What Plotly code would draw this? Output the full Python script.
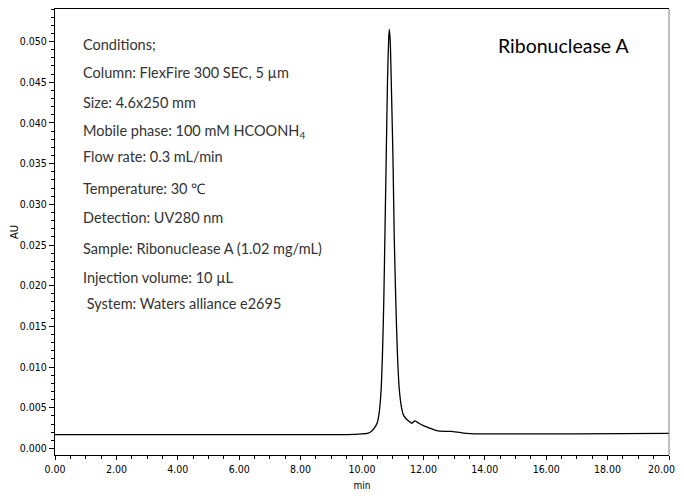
import plotly.graph_objects as go

# Chromatogram (retention time in min, absorbance in AU)
time_min = [0.0, 2.0, 4.0, 6.0, 8.0, 9.5, 10.0, 10.2, 10.3, 10.4, 10.5, 10.56,
            10.62, 10.67, 10.71, 10.75, 10.79, 10.83, 10.87, 10.89, 10.92,
            10.96, 11.01, 11.05, 11.10, 11.15, 11.21, 11.28, 11.35, 11.45,
            11.55, 11.62, 11.68, 11.73, 11.85, 12.0, 12.2, 12.43, 12.7, 12.9,
            13.3, 13.84, 15.0, 17.0, 20.0]
absorbance = [0.0017, 0.0017, 0.0017, 0.0017, 0.0017, 0.0017, 0.0018, 0.0019,
              0.0021, 0.0025, 0.0032, 0.0044, 0.0070, 0.0120, 0.0182, 0.0270,
              0.0360, 0.0450, 0.0505, 0.0515, 0.0500, 0.0440, 0.0354, 0.0260,
              0.0182, 0.0120, 0.0075, 0.0052, 0.0041, 0.0036, 0.0033, 0.0031,
              0.0033, 0.0034, 0.0031, 0.0028, 0.0025, 0.0022, 0.0021, 0.0021,
              0.0019, 0.0018, 0.0018, 0.0018, 0.00185]

x_ticks = [0, 2, 4, 6, 8, 10, 12, 14, 16, 18, 20]
x_ticktext = [f"{v:.2f}" for v in x_ticks]

conditions = [
    "Conditions;",
    "Column: FlexFire 300 SEC, 5 µm",
    "Size: 4.6x250 mm",
    "Mobile phase: 100 mM HCOONH<sub>4</sub>",
    "Flow rate: 0.3 mL/min",
    "Temperature: 30 ℃",
    "Detection: UV280 nm",
    "Sample: Ribonuclease A (1.02 mg/mL)",
    "Injection volume: 10 µL",
    " System: Waters alliance e2695",
]
condition_y = [44, 73, 102, 131, 157, 188, 217, 248, 277, 303]  # screen pixel rows

# the page body has an 8px margin all round; keep the figure inside the window
OFF = 8
W, H = 684 - OFF, 500 - 2 * OFF
# plot area in screen pixels: x 55..669, y 9..455
L, R, T, B = 55, 669, 9, 455


def px(x):
    return (x - L) / (R - L)


def py(y):
    return (B - y) / (B - T)


tick_font = dict(family="Liberation Sans Narrow, DejaVu Sans Condensed, Liberation Sans, sans-serif",
                 size=10.5, color="black")
note_font = dict(family="Lato, Open Sans, sans-serif", size=14.5, color="#333")

fig = go.Figure()
fig.add_trace(go.Scatter(
    x=time_min, y=absorbance, mode="lines",
    line=dict(color="black", width=1.3, shape="spline", smoothing=0.6),
    hoverinfo="skip", showlegend=False,
))

for txt, yy in zip(conditions, condition_y):
    fig.add_annotation(
        x=px(81), y=py(yy), xref="paper", yref="paper", text=txt,
        showarrow=False, xanchor="left", yanchor="middle", font=note_font,
    )

fig.add_annotation(
    x=px(563), y=py(45), xref="paper", yref="paper", text="Ribonuclease A",
    showarrow=False, xanchor="center", yanchor="middle",
    font=dict(family="Lato, Open Sans, sans-serif", size=19.5, color="black"),
)

# last x label would be clipped at the window edge, so draw it right-anchored
fig.add_annotation(
    x=x_ticks[-1], y=0, xref="x", yref="paper", text=x_ticktext[-1],
    showarrow=False, xanchor="right", yanchor="top", xshift=8, yshift=-6,
    font=tick_font,
)

fig.update_layout(
    width=W, height=H,
    margin=dict(l=L - OFF, r=684 - R, t=T - OFF, b=H + OFF - B),
    paper_bgcolor="white", plot_bgcolor="white",
    xaxis=dict(
        range=[0, 20], tickmode="array", tickvals=x_ticks,
        ticktext=x_ticktext[:-1] + [""],
        ticks="outside", ticklen=4, tickcolor="black",
        minor=dict(dtick=0.5, ticks="outside", ticklen=3, tickcolor="black"),
        showline=True, linecolor="black", linewidth=1, mirror=True,
        showgrid=False, zeroline=False, tickfont=tick_font, automargin=False,
        title=dict(text="min", font=dict(family=tick_font["family"], size=10, color="black"),
                   standoff=8),
    ),
    yaxis=dict(
        range=[-0.0008, 0.054], tickmode="linear", tick0=0, dtick=0.005,
        tickformat=".3f", ticks="outside", ticklen=5, tickcolor="black",
        minor=dict(dtick=0.001, ticks="outside", ticklen=3, tickcolor="black"),
        showline=True, linecolor="black", linewidth=1,
        showgrid=False, zeroline=False, tickfont=tick_font, automargin=False,
        title=dict(text="AU", font=dict(family=tick_font["family"], size=11, color="black"),
                   standoff=7),
    ),
)

# right frame edge is a lighter grey in the reference
fig.add_shape(type="line", xref="paper", yref="paper", x0=1, x1=1, y0=0, y1=1,
              line=dict(color="#808080", width=1))

fig.write_html("out.html")
